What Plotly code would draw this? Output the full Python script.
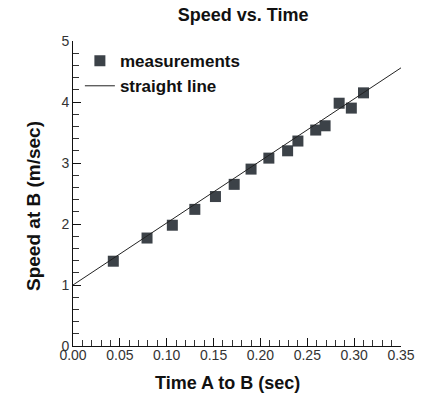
import plotly.graph_objects as go

# Data
time_s = [0.043, 0.079, 0.106, 0.130, 0.152, 0.172, 0.190, 0.209, 0.229, 0.240,
          0.259, 0.269, 0.284, 0.297, 0.310]
speed = [1.39, 1.77, 1.98, 2.24, 2.45, 2.65, 2.90, 3.08, 3.20, 3.36,
         3.54, 3.61, 3.98, 3.90, 4.15]
line_x = [0.0, 0.35]
line_y = [1.0, 4.56]

x_ticks = [0.00, 0.05, 0.10, 0.15, 0.20, 0.25, 0.30, 0.35]
x_tick_labels = ["0.00", "0.05", "0.10", "0.15", "0.20", "0.25", "0.30", "0.35"]
y_ticks = [0, 1, 2, 3, 4, 5]
y_tick_labels = ["0", "1", "2", "3", "4", "5"]

FONT = "Liberation Sans, Arial, sans-serif"
MARK = "#3c4248"

fig = go.Figure()
fig.add_trace(go.Scatter(
    x=time_s, y=speed, mode="markers", name="measurements",
    marker=dict(symbol="square", size=11, color=MARK, line=dict(width=0)),
))
fig.add_trace(go.Scatter(
    x=line_x, y=line_y, mode="lines", name="straight line",
    line=dict(color="#222222", width=1),
))

axis_common = dict(
    showline=True, linecolor="#111111", linewidth=1, mirror=False,
    showgrid=False, zeroline=False,
    ticks="inside", ticklen=8, tickcolor="#111111", tickwidth=1,
    tickfont=dict(family=FONT, size=14, color="#333333"),
)

fig.update_xaxes(
    range=[0, 0.35], tickvals=x_ticks, ticktext=x_tick_labels,
    minor=dict(ticks="inside", ticklen=6, dtick=0.01, tickcolor="#333333", tickwidth=1),
    ticklabelstandoff=-4,
    **axis_common,
)
fig.update_yaxes(
    range=[0, 5], tickvals=y_ticks, ticktext=y_tick_labels,
    minor=dict(ticks="inside", ticklen=6, dtick=0.2, tickcolor="#333333", tickwidth=1),
    **axis_common,
)

fig.update_layout(
    width=434, height=403,
    margin=dict(l=73, r=33, t=41, b=57),
    paper_bgcolor="white", plot_bgcolor="white",
    title=dict(text="<b>Speed vs. Time</b>", x=0.56, xanchor="center", y=0.963, yanchor="middle",
               font=dict(family=FONT, size=18, color="#111111")),
    legend=dict(x=0.021, y=0.993, xanchor="left", yanchor="top",
                font=dict(family=FONT, size=17, color="#111111", weight="bold"),
                bgcolor="rgba(0,0,0,0)", tracegroupgap=0, itemwidth=30),
    showlegend=True,
    annotations=[
        dict(text="<b>Time A to B (sec)</b>", xref="paper", yref="paper",
             x=0.47, y=-0.121, xanchor="center", yanchor="middle", showarrow=False,
             font=dict(family=FONT, size=18, color="#111111")),
        dict(text="<b>Speed at B (m/sec)</b>", xref="paper", yref="paper",
             x=-0.122, y=0.459, xanchor="center", yanchor="middle", showarrow=False,
             textangle=-90, font=dict(family=FONT, size=19, color="#111111")),
    ],
)

fig.write_html("out.html", config={"displayModeBar": False},
               post_script="document.body.style.margin='0';")
